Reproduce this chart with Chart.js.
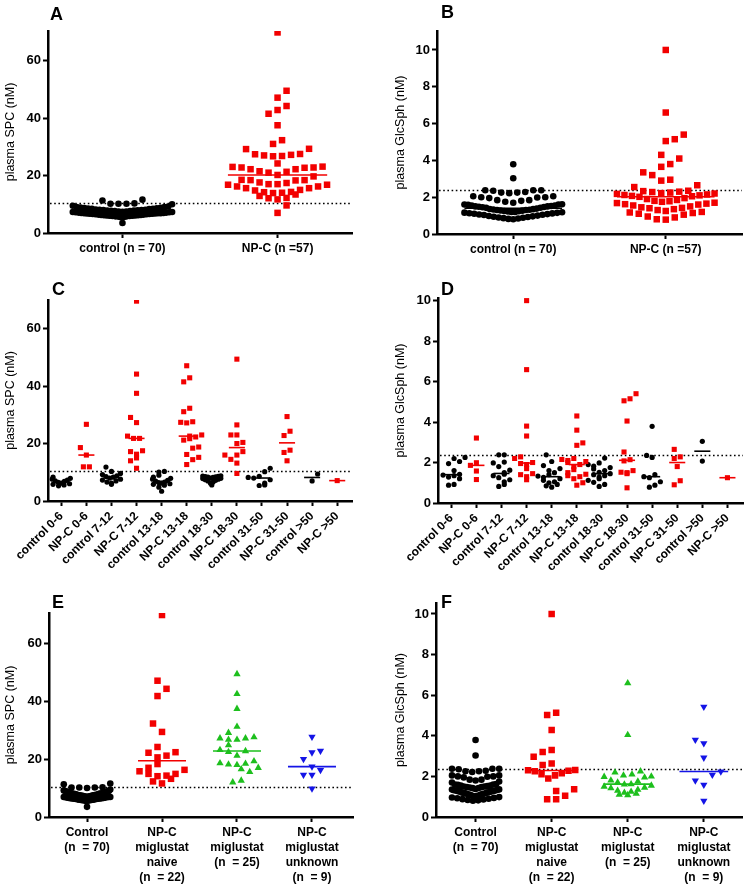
<!DOCTYPE html>
<html>
<head>
<meta charset="utf-8">
<script src="https://cdn.jsdelivr.net/npm/chart.js@4.4.1/dist/chart.umd.min.js"></script>
<style>
  html, body { margin: 0; padding: 0; background: #fff; }
  #fig { position: relative; width: 747px; height: 887px; overflow: hidden; }
  #fig canvas { position: absolute; }
</style>
</head>
<body>
<div id="fig">
  <canvas id="cA"></canvas>
  <canvas id="cB"></canvas>
  <canvas id="cC"></canvas>
  <canvas id="cD"></canvas>
  <canvas id="cE"></canvas>
  <canvas id="cF"></canvas>
</div>
<script>
// ---- tick labels ----
const overviewLabels = ['control (n = 70)', 'NP-C (n =57)'];
const ageLabels = ['control 0-6', 'NP-C 0-6', 'control 7-12', 'NP-C 7-12', 'control 13-18', 'NP-C 13-18',
  'control 18-30', 'NP-C 18-30', 'control 31-50', 'NP-C 31-50', 'control >50', 'NP-C >50'];
const treatmentLabels = [
  ['Control', '(n  = 70)'],
  ['NP-C', 'miglustat', 'naive', '(n  = 22)'],
  ['NP-C', 'miglustat', '(n  = 25)'],
  ['NP-C', 'miglustat', 'unknown', '(n  = 9)']
];

// ---- cut-offs (dotted lines) ----
const spcCutoff = 10.3;
const glcCutoff = 2.37;

// ---- plasma SPC, all subjects (A, E) ----
const spcControl = [11.3, 10.2, 10.2, 9.5, 10.0, 10.3, 10.2, 11.6, 3.5,
  9.2, 9.0, 9.0, 8.8, 8.7, 8.6, 8.5, 8.4, 8.3, 8.2,
  8.1, 8.0, 8.0, 7.9, 7.8, 7.7, 7.6, 7.5, 7.5, 7.4,
  7.3, 7.3, 7.2, 7.2, 7.1, 7.0, 7.0, 6.9, 6.9, 6.8,
  6.8, 6.7, 6.7, 6.6, 6.6, 6.5, 6.5, 6.4, 6.4, 6.3,
  6.3, 6.2, 6.2, 6.1, 6.1, 6.0, 6.0, 5.9, 5.9, 5.8,
  5.8, 5.7, 5.6, 5.5, 7.6, 7.8, 8.1, 8.4, 8.9, 7.1, 6.9];
const spcNpc = [69.8, 49.5, 47.1, 44.2, 42.8, 41.5, 37.5, 32.3, 31.0, 29.3, 29.2,
  27.5, 27.2, 26.8, 26.7, 27.0, 27.4, 24.2,
  23.0, 22.8, 22.2, 21.5, 22.2, 22.7, 22.8, 23.1, 21.3, 20.2, 19.7, 21.0,
  18.4, 18.4, 18.3, 18.5, 17.4, 17.0, 16.8, 16.2, 15.6, 15.0, 14.8, 15.6, 16.2, 16.8, 17.0, 17.6,
  14.2, 13.9, 12.9, 12.1, 11.7, 12.2, 13.4, 14.0, 14.3, 9.6, 7.0];

// ---- plasma GlcSph, all subjects (B, F) ----
const glcControl = [3.79, 3.03, 2.25, 2.38, 2.35, 2.28, 2.38, 2.38, 2.22, 2.25,
  2.05, 2.0, 1.98, 1.95, 2.05, 2.0, 1.84, 1.75, 1.84, 1.7, 1.8, 1.62, 1.6, 1.6, 1.58,
  1.55, 1.55, 1.52, 1.5, 1.5, 1.48, 1.47, 1.45, 1.43, 1.42,
  1.38, 1.36, 1.35, 1.33, 1.32, 1.3, 1.3, 1.28, 1.27, 1.25,
  1.24, 1.22, 1.2, 1.2, 1.18, 1.16, 1.15, 1.13, 1.12, 1.1,
  1.08, 1.06, 1.05, 1.03, 1.0, 0.98, 0.96, 0.94, 0.92, 0.9,
  0.88, 0.86, 0.84, 0.82, 0.8];
const glcNpc = [10.0, 6.6, 5.15, 5.05, 5.4, 4.3, 4.1, 3.8, 3.65, 3.35, 3.2, 2.95, 2.9, 2.65, 2.55,
  2.35, 2.33, 2.3, 2.28, 2.25, 2.22, 2.2, 2.18, 2.15, 2.12, 2.1, 2.07, 2.05, 2.02,
  1.95, 1.9, 1.85, 1.8, 1.78, 1.75, 1.7, 1.68, 1.65, 1.62,
  1.6, 1.55, 1.5, 1.45, 1.42, 1.4, 1.35, 1.3, 1.25, 1.2,
  1.17, 1.14, 1.1, 1.05, 0.95, 0.9, 0.8, 0.78];

// ---- plasma SPC by age (C) ----
const spcCtrl0to6 = [8.3, 7.9, 7.6, 7.3, 7.0, 6.8, 6.5, 6.2, 6.0, 5.8, 5.6, 5.3];
const spcNpc0to6 = [26.7, 18.6, 16.0, 11.9, 11.9];
const spcCtrl7to12 = [11.8, 10.3, 9.6, 9.2, 8.8, 8.5, 8.3, 8.0, 7.6, 7.3, 7.0, 6.6, 6.2, 5.8];
const spcNpc7to12 = [69.6, 44.2, 37.5, 29.1, 27.3, 22.6, 21.8, 21.8, 17.5, 17.2, 16.3, 15.0, 14.0, 11.4];
const spcCtrl13to18 = [10.3, 10.1, 9.0, 8.3, 7.9, 7.6, 7.2, 6.9, 6.6, 6.4, 6.2, 6.0, 5.8, 5.5, 4.8, 3.4];
const spcNpc13to18 = [47.1, 42.9, 41.5, 32.3, 31.1, 27.6, 27.4, 27.2, 23.0, 22.6, 22.3, 21.7, 21.2, 18.8, 18.4, 16.2, 15.2, 14.4, 12.7];
const spcCtrl18to30 = [8.8, 8.7, 8.6, 8.5, 8.4, 8.3, 8.2, 8.0, 7.9, 7.8, 7.6, 7.4, 7.2, 7.0, 6.6, 6.2, 5.6];
const spcNpc18to30 = [49.4, 26.5, 23.0, 23.0, 20.4, 20.0, 17.2, 16.0, 16.0, 14.5, 13.2, 9.6];
const spcCtrl31to50 = [11.4, 10.2, 8.6, 8.2, 8.0, 7.4, 6.2, 5.6, 5.4];
const spcNpc31to50 = [29.4, 24.3, 22.8, 17.7, 16.9, 14.0];
const spcCtrlOver50 = [9.4, 7.0];
const spcNpcOver50 = [7.1];

// ---- plasma GlcSph by age (D) ----
const glcCtrl0to6 = [2.25, 2.2, 2.05, 1.95, 1.6, 1.42, 1.38, 1.35, 1.28, 1.2, 0.92, 0.88];
const glcNpc0to6 = [3.21, 1.99, 1.86, 1.58, 1.16];
const glcCtrl7to12 = [2.38, 2.38, 2.02, 1.98, 1.8, 1.62, 1.5, 1.42, 1.35, 1.25, 1.15, 1.05, 0.92, 0.82];
const glcNpc7to12 = [10.0, 6.59, 3.8, 3.31, 2.28, 2.2, 2.0, 1.95, 1.9, 1.7, 1.45, 1.4, 1.3, 1.15];
const glcCtrl13to18 = [2.38, 2.05, 1.85, 1.7, 1.6, 1.5, 1.4, 1.33, 1.27, 1.2, 1.12, 1.05, 1.0, 0.92, 0.85, 0.78];
const glcNpc13to18 = [4.3, 3.6, 2.97, 2.85, 2.2, 2.15, 2.1, 2.05, 2.0, 1.9, 1.8, 1.65, 1.5, 1.42, 1.35, 1.3, 1.2, 1.0, 0.88];
const glcCtrl18to30 = [2.22, 1.98, 1.9, 1.82, 1.75, 1.68, 1.6, 1.52, 1.45, 1.4, 1.35, 1.28, 1.2, 1.12, 1.02, 0.92, 0.82];
const glcNpc18to30 = [5.4, 5.15, 5.05, 4.05, 2.52, 2.14, 2.08, 1.6, 1.52, 1.5, 1.45, 0.75];
const glcCtrl31to50 = [3.79, 2.35, 2.25, 1.4, 1.3, 1.25, 1.05, 0.88, 0.78];
const glcNpc31to50 = [2.65, 2.28, 2.2, 1.8, 1.1, 0.9];
const glcCtrlOver50 = [3.05, 2.07];
const glcNpcOver50 = [1.25];

// ---- by miglustat treatment (E, F) ----
const spcNaive = [69.8, 47.1, 44.3, 41.8, 32.3, 29.4, 24.2, 22.2, 22.4, 20.6, 21.2, 18.3, 17.0, 16.3, 14.3, 13.2, 14.9, 14.9, 15.8, 14.1, 11.6, 12.3];
const spcMiglustat = [49.4, 42.5, 37.4, 31.2, 29.1, 27.6, 27.2, 27.2, 26.7, 26.7, 24.8, 23.2, 22.8, 22.5, 21.2, 19.3, 18.6, 18.4, 18.2, 18.0, 17.0, 16.5, 15.6, 12.6, 12.0];
const spcUnknown = [27.7, 22.9, 22.3, 20.0, 17.4, 16.2, 14.6, 14.6, 9.8];
const glcNaive = [10.0, 5.13, 5.02, 4.29, 3.3, 3.2, 2.97, 2.63, 2.56, 2.32, 2.3, 2.28, 2.25, 2.15, 2.1, 2.05, 1.9, 1.37, 1.28, 1.05, 0.88, 0.88];
const glcMiglustat = [6.59, 4.04, 2.25, 2.2, 2.1, 2.05, 2.0, 1.98, 1.95, 1.8, 1.75, 1.7, 1.62, 1.6, 1.55, 1.5, 1.45, 1.42, 1.35, 1.3, 1.25, 1.2, 1.15, 1.1, 1.08];
const glcUnknown = [5.43, 3.8, 3.63, 2.92, 2.24, 2.08, 1.79, 1.58, 0.80];

const FONT = '"Liberation Sans", Arial, Helvetica, sans-serif';
Chart.defaults.font.family = FONT;
Chart.defaults.color = '#000';

const RED = '#f20000';
const GREEN = '#1dbf1d';
const BLUE = '#1414e6';

// marker styles (big panels A/B/E/F, small panels C/D)
const dot = { shape: 'circle', color: '#000', r: 3.3, gap: 8 };
const square = { shape: 'rect', color: RED, r: 4.6, gap: 9 };
const tri = { shape: 'triangle', color: GREEN, r: 4.2, gap: 8.5 };
const triDown = { shape: 'triangle', color: BLUE, r: 4.2, gap: 8.5, rot: 180 };
const dotSmall = { shape: 'circle', color: '#000', r: 2.6, gap: 5.5 };
const squareSmall = { shape: 'rect', color: RED, r: 3.6, gap: 6 };

function median(values) {
  const s = [...values].sort((a, b) => a - b);
  const m = s.length >> 1;
  return s.length % 2 ? s[m] : (s[m - 1] + s[m]) / 2;
}

// row layout (GraphPad style): points binned in rows, lowest values in the
// middle of a row, higher ones to the outside; rows squeezed to maxHalf;
// small rows are nudged sideways when they sit on top of a neighbouring row
function rowSpread(ypx, gap, maxHalf) {
  const rows = new Map();
  ypx.forEach((y, i) => {
    const key = Math.round(y / gap);
    if (!rows.has(key)) rows.set(key, []);
    rows.get(key).push(i);
  });
  const keys = [...rows.keys()].sort((a, b) => b - a);
  const off = new Array(ypx.length).fill(0);
  const placed = [];
  keys.forEach((key, r) => {
    const members = rows.get(key);
    const n = members.length;
    const step = n > 1 ? Math.min(gap, (2 * maxHalf) / (n - 1)) : 0;
    const slots = [];
    for (let j = 0; j < n; j++) slots.push((j - (n - 1) / 2) * step);
    slots.sort((a, b) => Math.abs(a) - Math.abs(b) || a - b);
    members.sort((a, b) => ypx[b] - ypx[a]);
    let shifts = [0];
    if (n <= 3) {
      const s = r % 2 ? 1 : -1;
      const h = gap / 2;
      shifts = [0, s * h, -s * h, s * 2 * h, -s * 2 * h, s * 3 * h, -s * 3 * h];
    }
    let best = 0, bestHits = Infinity;
    for (const sh of shifts) {
      let hits = 0;
      members.forEach((idx, k) => {
        const x = slots[k] + sh;
        placed.forEach(p => {
          if (Math.abs(p.y - ypx[idx]) < 1.3 * gap && Math.abs(p.x - x) < 0.8 * gap) hits++;
        });
      });
      if (hits < bestHits) { bestHits = hits; best = sh; }
      if (hits === 0) break;
    }
    members.forEach((idx, k) => {
      off[idx] = slots[k] + best;
      placed.push({ x: off[idx], y: ypx[idx] });
    });
  });
  return off;
}

const thresholdLine = {
  id: 'thresholdLine',
  beforeDatasetsDraw(chart, args, opts) {
    const { ctx, chartArea: a, scales: { y } } = chart;
    const py = Math.round(y.getPixelForValue(opts.value)) + 0.5;
    ctx.save();
    ctx.strokeStyle = '#000';
    ctx.lineWidth = 1.6;
    ctx.setLineDash([1.6, 2.6]);
    ctx.beginPath();
    ctx.moveTo(a.left + 2, py);
    ctx.lineTo(a.right, py);
    ctx.stroke();
    ctx.restore();
  }
};

const panelLetter = {
  id: 'panelLetter',
  afterDraw(chart, args, opts) {
    const ctx = chart.ctx;
    ctx.save();
    ctx.font = 'bold 18px ' + FONT;
    ctx.fillStyle = '#000';
    ctx.fillText(opts.text, opts.x, opts.y);
    ctx.restore();
  }
};

Chart.register(thresholdLine, panelLetter);

const byAgeSpc = [spcCtrl0to6, spcNpc0to6, spcCtrl7to12, spcNpc7to12, spcCtrl13to18, spcNpc13to18,
  spcCtrl18to30, spcNpc18to30, spcCtrl31to50, spcNpc31to50, spcCtrlOver50, spcNpcOver50];
const byAgeGlc = [glcCtrl0to6, glcNpc0to6, glcCtrl7to12, glcNpc7to12, glcCtrl13to18, glcNpc13to18,
  glcCtrl18to30, glcNpc18to30, glcCtrl31to50, glcNpc31to50, glcCtrlOver50, glcNpcOver50];
const ageStyles = ageLabels.map((_, i) => (i % 2 ? squareSmall : dotSmall));

const panels = [
  { id: 'cA', letter: 'A', letterAt: [50, 20], box: [0, 0, 362, 262], plot: [48, 31, 352, 233],
    xRange: [-0.48, 1.48], yMax: 70.3, yStep: 20, yTitle: 'plasma SPC (nM)', titlePad: 3.5,
    cutoff: spcCutoff, labels: overviewLabels, rotate: 0, spread: 0.32,
    groups: [spcControl, spcNpc], styles: [dot, square] },
  { id: 'cB', letter: 'B', letterAt: [56, 18], box: [385, 0, 362, 262], plot: [437, 31, 742, 234],
    xRange: [-0.5, 1.5], yMax: 11.03, yStep: 2, yTitle: 'plasma GlcSph (nM)', titlePad: 8.5,
    cutoff: glcCutoff, labels: overviewLabels, rotate: 0, spread: 0.32,
    groups: [glcControl, glcNpc], styles: [dot, square] },
  { id: 'cC', letter: 'C', letterAt: [52, 23], box: [0, 272, 362, 313], plot: [48, 300, 352, 501],
    xRange: [-0.53, 11.59], yMax: 70, yStep: 20, yTitle: 'plasma SPC (nM)', titlePad: 3.5,
    cutoff: spcCutoff, labels: ageLabels, rotate: 45, spread: 0.36,
    groups: byAgeSpc, styles: ageStyles },
  { id: 'cD', letter: 'D', letterAt: [56, 23], box: [385, 272, 362, 313], plot: [438, 298, 743, 503],
    xRange: [-0.53, 11.62], yMax: 10.13, yStep: 2, yTitle: 'plasma GlcSph (nM)', titlePad: 8.5,
    cutoff: glcCutoff, labels: ageLabels, rotate: 45, spread: 0.36,
    groups: byAgeGlc, styles: ageStyles },
  { id: 'cE', letter: 'E', letterAt: [52, 23], box: [0, 585, 362, 302], plot: [49, 613, 353, 817],
    xRange: [-0.507, 3.547], yMax: 70.5, yStep: 20, yTitle: 'plasma SPC (nM)', titlePad: 3.5,
    cutoff: spcCutoff, labels: treatmentLabels, rotate: 0, spread: 0.31,
    groups: [spcControl, spcNaive, spcMiglustat, spcUnknown], styles: [dot, square, tri, triDown] },
  { id: 'cF', letter: 'F', letterAt: [56, 23], box: [385, 585, 362, 302], plot: [436, 603, 745, 817],
    xRange: [-0.52, 3.507], yMax: 10.54, yStep: 2, yTitle: 'plasma GlcSph (nM)', titlePad: 8.5,
    cutoff: glcCutoff, labels: treatmentLabels, rotate: 0, spread: 0.31,
    groups: [glcControl, glcNaive, glcMiglustat, glcUnknown], styles: [dot, square, tri, triDown] }
];

function axisGrid() {
  return { drawOnChartArea: false, drawTicks: true, tickLength: 5, tickColor: '#000', tickWidth: 2 };
}

function makePanel(p) {
  const canvas = document.getElementById(p.id);
  const [bx, by, bw, bh] = p.box;
  const [pl, pt, pr, pb] = p.plot;
  canvas.width = bw;
  canvas.height = bh;
  canvas.style.left = bx + 'px';
  canvas.style.top = by + 'px';
  const yAxisW = pl - bx;
  const xAxisH = by + bh - pb;

  const datasets = p.groups.map((values, i) => {
    const s = p.styles[i];
    return {
      data: values.map(v => ({ x: i, y: v })),
      pointStyle: s.shape,
      pointRadius: s.r,
      pointHoverRadius: s.r,
      pointRotation: s.rot || 0,
      backgroundColor: s.color,
      borderColor: s.color,
      borderWidth: 0,
      showLine: false,
      order: 2
    };
  });
  p.groups.forEach((values, i) => {
    const m = median(values);
    datasets.push({
      data: [{ x: i - 0.32, y: m }, { x: i + 0.32, y: m }],
      showLine: true,
      borderColor: p.styles[i].color,
      borderWidth: 1.6,
      pointRadius: 0,
      order: 1
    });
  });

  const chart = new Chart(canvas, {
    type: 'scatter',
    data: { datasets },
    options: {
      responsive: false,
      animation: false,
      events: [],
      layout: { padding: { top: pt - by, right: bx + bw - pr, left: 0, bottom: 0 } },
      plugins: {
        legend: { display: false },
        tooltip: { enabled: false },
        thresholdLine: { value: p.cutoff },
        panelLetter: { text: p.letter, x: p.letterAt[0], y: p.letterAt[1] }
      },
      scales: {
        x: {
          type: 'linear',
          min: p.xRange[0],
          max: p.xRange[1],
          afterBuildTicks: s => { s.ticks = p.labels.map((_, i) => ({ value: i })); },
          afterFit: s => { s.height = xAxisH; },
          ticks: {
            autoSkip: false,
            minRotation: p.rotate,
            maxRotation: p.rotate,
            padding: 3,
            color: '#000',
            font: { size: 12, weight: 'bold', lineHeight: 1.25 },
            callback: (v, i) => p.labels[i]
          },
          grid: axisGrid(),
          border: { display: true, color: '#000', width: 2.5 }
        },
        y: {
          min: 0,
          max: p.yMax,
          afterFit: s => { s.width = yAxisW; },
          ticks: {
            stepSize: p.yStep,
            includeBounds: false,
            padding: 2,
            color: '#000',
            font: { size: 13, weight: 'bold' }
          },
          grid: axisGrid(),
          border: { display: true, color: '#000', width: 2.5 },
          title: {
            display: true,
            text: p.yTitle,
            color: '#000',
            font: { size: 12.5 },
            padding: { top: p.titlePad, bottom: 0 }
          }
        }
      }
    }
  });

  // spread the markers of each group sideways in rows
  const xs = chart.scales.x;
  const ys = chart.scales.y;
  const catPx = xs.getPixelForValue(1) - xs.getPixelForValue(0);
  p.groups.forEach((values, i) => {
    const offs = rowSpread(values.map(v => ys.getPixelForValue(v)), p.styles[i].gap, p.spread * catPx);
    chart.data.datasets[i].data = values.map((v, k) => ({ x: i + offs[k] / catPx, y: v }));
  });
  chart.update('none');
}

panels.forEach(makePanel);
</script>
</body>
</html>
